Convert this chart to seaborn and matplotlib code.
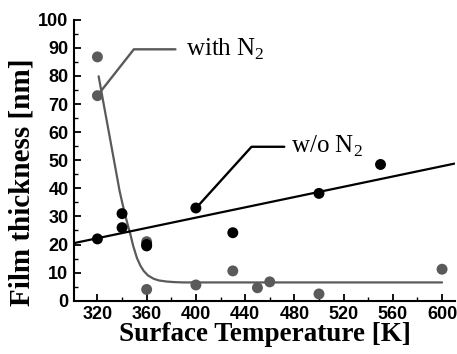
import matplotlib
matplotlib.use("Agg")
import matplotlib.pyplot as plt
import seaborn as sns
import pandas as pd
from matplotlib.ticker import MultipleLocator

# ---- data ----
wo_T = [320, 340, 340, 360, 360, 400, 430, 500, 550]
wo_y = [22.0, 31.0, 26.0, 20.0, 19.5, 33.0, 24.2, 38.2, 48.5]

with_T = [320, 320, 360, 360, 400, 430, 450, 460, 500, 600]
with_y = [86.8, 73.0, 21.0, 4.0, 5.6, 10.6, 4.6, 6.7, 2.4, 11.2]

# linear fit line (w/o N2), endpoints
fit_T = [301, 610]
fit_y = [20.5, 48.8]

# decay curve (with N2)
curve_T = [321, 325, 330, 335, 338, 340, 342, 343.5, 345, 346.8, 349, 352.1, 355, 357.6,
           361, 365.7, 370, 376.5, 383, 390, 400, 450, 600]
curve_y = [79.9, 70.2, 58.3, 46.3, 39.1, 35.2, 31.5, 28.9, 26.4, 23.6, 19.6, 15.2, 12.4, 10.6,
           9.0, 7.8, 7.2, 6.8, 6.6, 6.5, 6.5, 6.5, 6.5]

# leader lines for labels
lead_with_T = [321.2, 349.6, 383.4]
lead_with_y = [73.7, 89.5, 89.5]
lead_wo_T = [400.4, 445.2, 471.8]
lead_wo_y = [33.1, 54.8, 54.8]

xticks = [320, 360, 400, 440, 480, 520, 560, 600]
yticks = [0, 10, 20, 30, 40, 50, 60, 70, 80, 90, 100]

GREY = "#5a5a5a"
BLACK = "#000000"

sns.set_style("ticks")
plt.rcParams["font.family"] = ["Liberation Sans", "DejaVu Sans"]
plt.rcParams["mathtext.fontset"] = "custom"
plt.rcParams["mathtext.rm"] = "Liberation Serif"
plt.rcParams["text.color"] = "black"
plt.rcParams["axes.labelcolor"] = "black"
plt.rcParams["xtick.color"] = "black"
plt.rcParams["ytick.color"] = "black"
plt.rcParams["axes.edgecolor"] = "black"

fig = plt.figure(figsize=(4.57, 3.54), dpi=100)
ax = fig.add_axes([0.162, 0.1506, 0.8336, 0.7934])

df_wo = pd.DataFrame({"T": wo_T, "y": wo_y})
df_with = pd.DataFrame({"T": with_T, "y": with_y})
df_fit = pd.DataFrame({"T": fit_T, "y": fit_y})
df_curve = pd.DataFrame({"T": curve_T, "y": curve_y})

sns.lineplot(data=df_curve, x="T", y="y", ax=ax, color=GREY, lw=1.6, sort=False, zorder=2)
sns.lineplot(data=df_fit, x="T", y="y", ax=ax, color=BLACK, lw=1.6, sort=False, zorder=2)
ax.plot(lead_with_T, lead_with_y, color=GREY, lw=1.7, zorder=2)
ax.plot(lead_wo_T, lead_wo_y, color=BLACK, lw=1.7, zorder=2)

sns.scatterplot(data=df_with, x="T", y="y", ax=ax, color=GREY, s=62, edgecolor="none", zorder=3)
sns.scatterplot(data=df_wo, x="T", y="y", ax=ax, color=BLACK, s=62, edgecolor="none", zorder=4)

ax.text(392, 89.5, "with N$_2$", family="Liberation Serif", fontsize=18, va="center", ha="left", color=BLACK)
ax.text(477.5, 55, "w/o N$_2$", family="Liberation Serif", fontsize=18, va="center", ha="left", color=BLACK)

ax.set_xlim(301, 610.5)
ax.set_ylim(0, 100)
ax.set_xticks(xticks)
ax.set_yticks(yticks)
ax.xaxis.set_minor_locator(MultipleLocator(20))
ax.yaxis.set_minor_locator(MultipleLocator(5))
ax.tick_params(which="major", direction="in", length=5, width=1.3, labelsize=13, pad=4)
ax.tick_params(which="minor", direction="in", length=3, width=1.0)
for lab in ax.get_xticklabels() + ax.get_yticklabels():
    lab.set_fontweight("bold")

ax.set_xlabel("Surface Temperature [K]", family="Liberation Serif", fontweight="bold", fontsize=19.5, labelpad=-1)
ax.set_ylabel("Film thickness [nm]", family="Liberation Serif", fontweight="bold", fontsize=21)
ax.yaxis.set_label_coords(-0.102, 0.422)

for side in ["top", "right"]:
    ax.spines[side].set_visible(False)
for side in ["left", "bottom"]:
    ax.spines[side].set_linewidth(1.5)

fig.savefig("out.png", dpi=100)
